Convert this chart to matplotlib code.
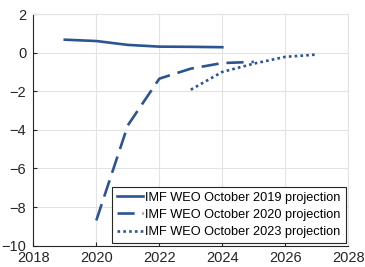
import matplotlib
matplotlib.use("Agg")
import matplotlib.pyplot as plt

plt.rcParams['font.family'] = ['Liberation Sans', 'DejaVu Sans']

years_2019 = [2019, 2020, 2021, 2022, 2023, 2024]
vals_2019 = [0.67, 0.60, 0.40, 0.31, 0.30, 0.28]
years_2020 = [2020, 2021, 2022, 2023, 2024, 2025]
vals_2020 = [-8.69, -3.77, -1.35, -0.83, -0.54, -0.48]
years_2023 = [2023, 2024, 2025, 2026, 2027]
vals_2023 = [-1.92, -1.00, -0.57, -0.22, -0.10]
labels = ["IMF WEO October 2019 projection",
          "IMF WEO October 2020 projection",
          "IMF WEO October 2023 projection"]
color = "#2b5591"

fig = plt.figure(figsize=(3.65, 2.67), dpi=100)
ax = fig.add_axes([33.3/365, 1-245.7/267, (348.3-33.3)/365, (245.7-14)/267])
ax.plot(years_2019, vals_2019, color=color, lw=1.9, ls='-', label=labels[0])
ax.plot(years_2020, vals_2020, color=color, lw=1.9, ls=(0, (6.5, 3)), label=labels[1])
ax.plot(years_2023, vals_2023, color=color, lw=1.9, ls=(0, (1, 1.2)), label=labels[2])
ax.set_xlim(2018, 2028)
ax.set_ylim(-10, 2)
ax.set_xticks(range(2018, 2029, 2))
ax.set_yticks(range(-10, 3, 2))
ax.grid(True, color='#e3e3e3', lw=0.8)
ax.set_axisbelow(True)
for s in ['top', 'right']:
    ax.spines[s].set_color('#e3e3e3')
for s in ['left', 'bottom']:
    ax.spines[s].set_color('#262626')
    ax.spines[s].set_linewidth(0.8)
ax.tick_params(direction='in', length=3, labelsize=10.5, colors='#262626', width=0.8)
ax.tick_params(axis='x', pad=4)
ax.tick_params(axis='y', pad=5)
leg = ax.legend(loc='lower right', fontsize=9.2, frameon=True, fancybox=False,
                edgecolor='#262626', framealpha=1, borderpad=0.4, labelspacing=0.4,
                handlelength=2.0, handletextpad=0.2, borderaxespad=0.2)
leg.get_frame().set_linewidth(0.8)
fig.savefig("out.png", dpi=100)
